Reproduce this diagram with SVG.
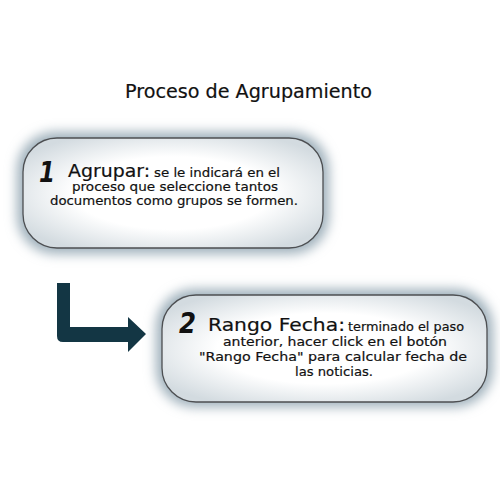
<svg xmlns="http://www.w3.org/2000/svg" width="500" height="500" viewBox="0 0 500 500">
<defs>
<style>
.box{stroke:#4d4f52;stroke-width:1.3;fill:url(#fillg)}
.glow{fill:#9fb0bb;filter:url(#blur)}
.t{font-family:"DejaVu Sans","Liberation Sans",sans-serif;fill:#111;stroke:#111;stroke-width:0.2}
.num{font-family:"DejaVu Sans","Liberation Sans",sans-serif;font-style:italic;font-weight:bold;fill:#111}
</style>
<filter id="blur" x="-20%" y="-30%" width="140%" height="160%"><feGaussianBlur stdDeviation="6"/></filter>
<radialGradient id="fillg" cx="50%" cy="50%" r="60%">
<stop offset="0.55" stop-color="#ffffff"/>
<stop offset="1" stop-color="#d3dbe0"/>
</radialGradient>
</defs>
<rect width="500" height="500" fill="#ffffff"/>
<text class="t" x="125" y="98" font-size="19" textLength="247" lengthAdjust="spacingAndGlyphs">Proceso de Agrupamiento</text>
<g id="node1">
<rect class="glow" x="17" y="132" width="312" height="122" rx="38"/>
<rect class="box" x="23" y="138" width="300" height="110" rx="34"/>
<text class="num" x="39" y="182" font-size="28" textLength="16" lengthAdjust="spacingAndGlyphs">1</text>
<text class="t" x="68" y="177" font-size="17" textLength="82" lengthAdjust="spacingAndGlyphs">Agrupar:</text>
<text class="t" x="154" y="177" font-size="13" textLength="126" lengthAdjust="spacingAndGlyphs">se le indicará en el</text>
<text class="t" x="72" y="191" font-size="13" textLength="206" lengthAdjust="spacingAndGlyphs">proceso que seleccione tantos</text>
<text class="t" x="50" y="205" font-size="13" textLength="248" lengthAdjust="spacingAndGlyphs">documentos como grupos se formen.</text>
</g>
<g id="node2">
<rect class="glow" x="156" y="289" width="337" height="118" rx="38"/>
<rect class="box" x="162" y="295" width="325" height="107" rx="34"/>
<text class="num" x="179" y="333" font-size="28" textLength="17" lengthAdjust="spacingAndGlyphs">2</text>
<text class="t" x="208" y="331" font-size="18.5" textLength="137" lengthAdjust="spacingAndGlyphs">Rango Fecha:</text>
<text class="t" x="348" y="331" font-size="13" textLength="116" lengthAdjust="spacingAndGlyphs">terminado el paso</text>
<text class="t" x="223" y="346" font-size="13" textLength="224" lengthAdjust="spacingAndGlyphs">anterior, hacer click en el botón</text>
<text class="t" x="199" y="361" font-size="13" textLength="268" lengthAdjust="spacingAndGlyphs">"Rango Fecha" para calcular fecha de</text>
<text class="t" x="295" y="376" font-size="13" textLength="78" lengthAdjust="spacingAndGlyphs">las noticias.</text>
</g>
<g id="connectors">
<path d="M57,283 H70 V327 H128 V317 L146,334 L128,352 V342 H63 Q57,342 57,336 Z" fill="#133644"/>
</g>
</svg>
